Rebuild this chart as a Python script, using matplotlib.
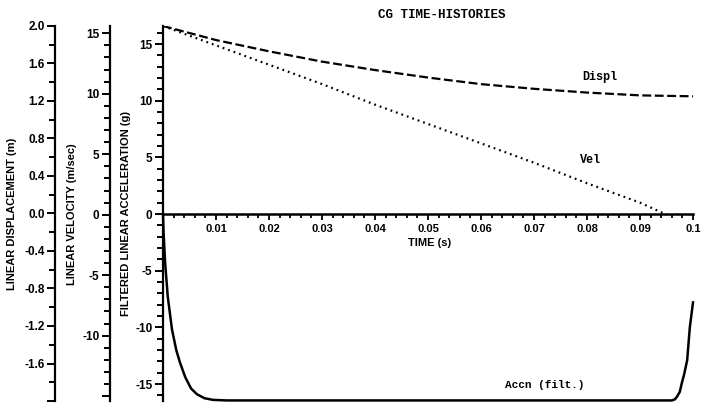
import matplotlib
matplotlib.use("Agg")
import matplotlib.pyplot as plt
from matplotlib.ticker import MultipleLocator, FuncFormatter

# ---- data ----
time_displ = [0.0, 0.01, 0.02, 0.03, 0.04, 0.05, 0.06, 0.07, 0.08, 0.09, 0.1]
displ_m = [2.0, 1.85, 1.73, 1.62, 1.53, 1.45, 1.38, 1.33, 1.29, 1.26, 1.25]

time_vel = [0.0, 0.01, 0.02, 0.03, 0.04, 0.05, 0.06, 0.07, 0.08, 0.09, 0.095]
vel_ms = [15.6, 14.0, 12.4, 10.8, 9.1, 7.5, 5.9, 4.3, 2.6, 1.0, 0.0]

time_acc = [0.0, 0.0001, 0.0004, 0.0009, 0.0017, 0.0025, 0.0032, 0.0042, 0.0053,
            0.0064, 0.0078, 0.0094, 0.012, 0.03, 0.06, 0.09, 0.0960, 0.0966,
            0.0970, 0.0975, 0.0979, 0.0983, 0.0989, 0.0994, 0.1]
acc_g = [0.0, -1.5, -4.3, -7.3, -10.2, -12.0, -13.1, -14.4, -15.4,
         -15.9, -16.25, -16.4, -16.45, -16.45, -16.45, -16.45, -16.45, -16.35,
         -16.1, -15.7, -14.9, -14.2, -12.9, -10.0, -7.8]

x_ticks = [0.01, 0.02, 0.03, 0.04, 0.05, 0.06, 0.07, 0.08, 0.09, 0.1]
x_tick_labels = ["0.01", "0.02", "0.03", "0.04", "0.05", "0.06", "0.07", "0.08", "0.09", "0.1"]

title = "CG TIME-HISTORIES"
xlabel = "TIME (s)"
ylabel_acc = "FILTERED LINEAR ACCELERATION (g)"
ylabel_vel = "LINEAR VELOCITY (m/sec)"
ylabel_dis = "LINEAR DISPLACEMENT (m)"

SANS = "Liberation Sans"
MONO = "Liberation Mono"

W, H = 703, 408
fig = plt.figure(figsize=(W / 100, H / 100), dpi=100)
fig.patch.set_facecolor("white")

left_px, right_px, top_px, bot_px = 163, 693, 26, 401
rect = [left_px / W, 1 - bot_px / H, (right_px - left_px) / W, (bot_px - top_px) / H]
PT = 0.72  # points per pixel at 100 dpi

def style_left(ax, major, minor, fmt, outward_px):
    for s in ["top", "right", "bottom"]:
        ax.spines[s].set_visible(False)
    ax.spines["left"].set_linewidth(1.6)
    ax.spines["left"].set_position(("outward", outward_px * PT))
    ax.yaxis.set_major_locator(MultipleLocator(major))
    ax.yaxis.set_minor_locator(MultipleLocator(minor))
    ax.yaxis.set_major_formatter(FuncFormatter(fmt))
    ax.tick_params(axis="y", which="major", direction="out", length=6, width=1.4,
                   pad=1.5, labelsize=8.5)
    ax.tick_params(axis="y", which="minor", direction="out", length=4, width=1.4)
    for lab in ax.get_yticklabels():
        lab.set_fontweight("bold")
        lab.set_family(SANS)

# Displacement axis (outermost)
ax_d = fig.add_axes(rect)
ax_d.patch.set_visible(False)
ax_d.set_xlim(0, 0.1)
ax_d.set_ylim(-2.0, 2.0)
ax_d.set_xticks([])
style_left(ax_d, 0.4, 0.2, lambda v, p: "" if v < -1.9 else f"{v:.1f}", 108)
ax_d.plot(time_displ, displ_m, color="black", lw=1.6, dashes=(4, 1.6))

# Velocity axis
ax_v = fig.add_axes(rect)
ax_v.patch.set_visible(False)
ax_v.set_xlim(0, 0.1)
ax_v.set_ylim(-15.4, 15.6)
ax_v.set_xticks([])
style_left(ax_v, 5, 1, lambda v, p: "" if v < -14 else f"{v:.0f}", 53)
ax_v.plot(time_vel, vel_ms, color="black", lw=1.6, dashes=(0.8, 1.8))

# Acceleration (main) axis
ax = fig.add_axes(rect)
ax.patch.set_visible(False)
ax.set_xlim(0, 0.1)
ax.set_ylim(-16.5, 16.6)
style_left(ax, 5, 1, lambda v, p: f"{v:.0f}", 0)
ax.spines["bottom"].set_visible(True)
ax.spines["bottom"].set_position(("data", 0))
ax.spines["bottom"].set_linewidth(1.8)
ax.set_xticks(x_ticks)
ax.set_xticklabels(x_tick_labels)
ax.xaxis.set_minor_locator(MultipleLocator(0.002))
ax.tick_params(axis="x", which="major", direction="out", length=4.5, width=1.3,
               pad=3, labelsize=8)
ax.tick_params(axis="x", which="minor", direction="out", length=3, width=1.3)
for lab in ax.get_xticklabels():
    lab.set_fontweight("bold")
    lab.set_family(SANS)
ax.plot(time_acc, acc_g, color="black", lw=1.8, clip_on=False,
        solid_joinstyle="round")

# Axis labels
lab_kw = dict(rotation=90, ha="center", va="center", fontsize=8,
              fontweight="bold", family=SANS)
fig.text(12 / W, 1 - 214 / H, ylabel_dis, **lab_kw)
fig.text(72 / W, 1 - 214 / H, ylabel_vel, **lab_kw)
fig.text(126 / W, 1 - 214 / H, ylabel_acc, **lab_kw)
fig.text(430 / W, 1 - 243 / H, xlabel, ha="center", va="center", fontsize=8,
         fontweight="bold", family=SANS)

# Title and curve annotations
mono_kw = dict(ha="center", va="center", fontweight="bold", family=MONO)
fig.text(442 / W, 1 - 15 / H, title, fontsize=9, **mono_kw)
fig.text(600 / W, 1 - 77 / H, "Displ", fontsize=8.5, **mono_kw)
fig.text(590 / W, 1 - 160 / H, "Vel", fontsize=8.5, **mono_kw)
fig.text(545 / W, 1 - 385 / H, "Accn (filt.)", fontsize=8, **mono_kw)

fig.savefig("out.png", dpi=100, facecolor="white")
